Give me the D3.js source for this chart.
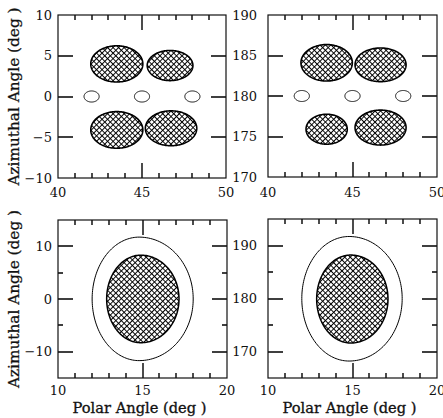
<!DOCTYPE html>
<html><head><meta charset="utf-8">
<script src="https://cdn.jsdelivr.net/npm/d3@7"></script>
<style>
body{margin:0;background:#fff}
text{font-family:"DejaVu Serif","Liberation Serif",serif;fill:#111}
</style></head>
<body><svg id="c" width="443" height="418"></svg>
<script>
// ---- data ----
const topXDomain = [40, 50];
const bottomXDomain = [10, 20];
const topLeftYDomain = [-10, 10];
const topRightYDomain = [170, 190];
const bottomLeftYDomain = [-15, 15];
const bottomRightYDomain = [165, 195];

const topXTicks = [40, 45, 50];
const bottomXTicks = [10, 15, 20];
const topLeftYTicks = [-10, -5, 0, 5, 10];
const topRightYTicks = [170, 175, 180, 185, 190];
const bottomLeftYTicks = [-10, 0, 10];
const bottomRightYTicks = [170, 180, 190];
const bottomLeftYMinor = [-5, 5];
const bottomRightYMinor = [175, 185];

// hatched lobes (top panels): centre x, centre y, half-width, half-height
const topLeftLobes = [
  {cx: 43.50, cy: 4.0, rx: 1.55, ry: 2.22},
  {cx: 46.67, cy: 3.8, rx: 1.36, ry: 1.85},
  {cx: 43.50, cy: -4.1, rx: 1.55, ry: 2.25},
  {cx: 46.73, cy: -3.9, rx: 1.53, ry: 2.14}
];
const topRightLobes = [
  {cx: 43.47, cy: 184.1, rx: 1.52, ry: 2.25},
  {cx: 46.66, cy: 183.85, rx: 1.51, ry: 2.08},
  {cx: 43.47, cy: 175.9, rx: 1.22, ry: 1.85},
  {cx: 46.66, cy: 176.1, rx: 1.51, ry: 2.16}
];
// small open markers (top panels)
const topMarkerX = [42, 45, 48];
const topLeftMarkerY = 0;
const topRightMarkerY = 180;
const markerRx = 0.45, markerRy = 0.68;

// bottom panels: outer open contour and inner hatched region
const bottomLeftOuter = {cx: 14.8, cy: 0, rxL: 2.78, rxR: 3.2, ryT: 11.75, ryB: 11.7};
const bottomLeftInner = {cx: 14.9, cy: 0, rxL: 2.02, rxR: 2.26, ryT: 8.32, ryB: 8.3};
const bottomRightOuter = {cx: 14.8, cy: 180, rxL: 2.8, rxR: 3.14, ryT: 11.7, ryB: 11.8};
const bottomRightInner = {cx: 14.9, cy: 179.9, rxL: 2.02, rxR: 2.2, ryT: 8.3, ryB: 8.3};

const yTitle = "Azimuthal Angle (deg )";
const xTitle = "Polar Angle (deg )";

// ---- drawing ----
const svg = d3.select("#c");
const defs = svg.append("defs");
const P = 3.9;
const pat = defs.append("pattern").attr("id", "hatch")
  .attr("patternUnits", "userSpaceOnUse").attr("width", P).attr("height", P)
  .attr("patternTransform", "rotate(45)");
pat.append("rect").attr("width", P).attr("height", P).attr("fill", "#fff");
pat.append("rect").attr("x", 0).attr("y", 0).attr("width", 0.95).attr("height", P).attr("fill", "#000");
pat.append("rect").attr("x", 0).attr("y", 0).attr("width", P).attr("height", 0.95).attr("fill", "#000");

const fmt = v => v < 0 ? "\u2212" + Math.abs(v) : String(v);

function shapePoints(s) {
  return d3.range(0, 360, 2).map(a => {
    const t = a * Math.PI / 180, c = Math.cos(t), sn = Math.sin(t);
    const rx = s.rx !== undefined ? s.rx : (c >= 0 ? s.rxR : s.rxL);
    const ry = s.ry !== undefined ? s.ry : (sn >= 0 ? s.ryT : s.ryB);
    return [s.cx + rx * c, s.cy + ry * sn];
  });
}

function panel(o) {
  const x = d3.scaleLinear().domain(o.xd).range([o.x0, o.x1]);
  const y = d3.scaleLinear().domain(o.yd).range([o.y1, o.y0]);
  const g = svg.append("g");
  const line = d3.line().x(d => x(d[0])).y(d => y(d[1])).curve(d3.curveLinearClosed);

  (o.shapes || []).forEach(s => {
    g.append("path").attr("d", line(shapePoints(s)))
      .attr("fill", s.hatched ? "url(#hatch)" : "none")
      .attr("stroke", "#000").attr("stroke-width", s.sw);
  });

  const inner = v => v > o.xd[0] && v < o.xd[1];
  const innerY = v => v > o.yd[0] && v < o.yd[1];
  const minorX = d3.range(o.xd[0] + 1, o.xd[1], 1).filter(v => !o.xt.includes(v));
  const xTicks = o.xt.filter(inner).map(v => ({v, len: 15})).concat(minorX.map(v => ({v, len: 5})));
  const yTicks = o.yt.filter(innerY).map(v => ({v, len: 15})).concat((o.ym || []).map(v => ({v, len: 5})));
  const p = d3.path();
  xTicks.forEach(t => {
    const px = Math.round(x(t.v));
    p.moveTo(px, o.y1); p.lineTo(px, o.y1 - t.len);
    p.moveTo(px, o.y0); p.lineTo(px, o.y0 + t.len);
  });
  yTicks.forEach(t => {
    const py = Math.round(y(t.v));
    p.moveTo(o.x0, py); p.lineTo(o.x0 + t.len, py);
    p.moveTo(o.x1, py); p.lineTo(o.x1 - t.len, py);
  });
  g.append("path").attr("d", p.toString()).attr("fill", "none").attr("stroke", "#000").attr("stroke-width", 1.4);

  g.append("rect").attr("x", o.x0).attr("y", o.y0).attr("width", o.x1 - o.x0).attr("height", o.y1 - o.y0)
    .attr("fill", "none").attr("stroke", "#111").attr("stroke-width", 1.2);

  g.selectAll(".xl").data(o.xt).enter().append("text")
    .attr("x", d => x(d)).attr("y", o.y1 + o.xoff).attr("text-anchor", "middle")
    .attr("font-size", 13).text(fmt);
  g.selectAll(".yl").data(o.yt).enter().append("text")
    .attr("x", o.x0 - o.lg).attr("y", d => y(d) + 4.5).attr("text-anchor", "end")
    .attr("font-size", 13).text(fmt);

  if (o.ytitle) {
    g.append("text").attr("transform", `translate(19,${(o.y0 + o.y1) / 2}) rotate(-90)`)
      .attr("text-anchor", "middle").attr("font-size", 14).attr("stroke", "#111").attr("stroke-width", 0.25)
      .attr("textLength", 178).attr("lengthAdjust", "spacingAndGlyphs").text(o.ytitle);
  }
  if (o.xtitle) {
    g.append("text").attr("x", (o.x0 + o.x1) / 2 - 3).attr("y", 413)
      .attr("text-anchor", "middle").attr("font-size", 14).attr("stroke", "#111").attr("stroke-width", 0.3)
      .attr("textLength", 134).attr("lengthAdjust", "spacingAndGlyphs").text(o.xtitle);
  }
}

const lobes = arr => arr.map(d => Object.assign({}, d, {hatched: true, sw: 1.6}));
const markers = (yv) => topMarkerX.map(v => ({cx: v, cy: yv, rx: markerRx, ry: markerRy, hatched: false, sw: 1}));

panel({x0: 58, x1: 226, y0: 15, y1: 178, xd: topXDomain, yd: topLeftYDomain, xt: topXTicks, yt: topLeftYTicks, lg: 6, xoff: 19,
  shapes: lobes(topLeftLobes).concat(markers(topLeftMarkerY)), ytitle: yTitle});
panel({x0: 268, x1: 437, y0: 15, y1: 177, xd: topXDomain, yd: topRightYDomain, xt: topXTicks, yt: topRightYTicks, lg: 11, xoff: 20,
  shapes: lobes(topRightLobes).concat(markers(topRightMarkerY))});
panel({x0: 58, x1: 227, y0: 220, y1: 378, xd: bottomXDomain, yd: bottomLeftYDomain, xt: bottomXTicks, yt: bottomLeftYTicks, ym: bottomLeftYMinor, lg: 6, xoff: 17,
  shapes: [Object.assign({}, bottomLeftOuter, {hatched: false, sw: 1}), Object.assign({}, bottomLeftInner, {hatched: true, sw: 1.5})],
  ytitle: yTitle, xtitle: xTitle});
panel({x0: 268, x1: 437, y0: 219, y1: 378, xd: bottomXDomain, yd: bottomRightYDomain, xt: bottomXTicks, yt: bottomRightYTicks, ym: bottomRightYMinor, lg: 11, xoff: 17,
  shapes: [Object.assign({}, bottomRightOuter, {hatched: false, sw: 1}), Object.assign({}, bottomRightInner, {hatched: true, sw: 1.5})],
  xtitle: xTitle});
</script></body></html>
